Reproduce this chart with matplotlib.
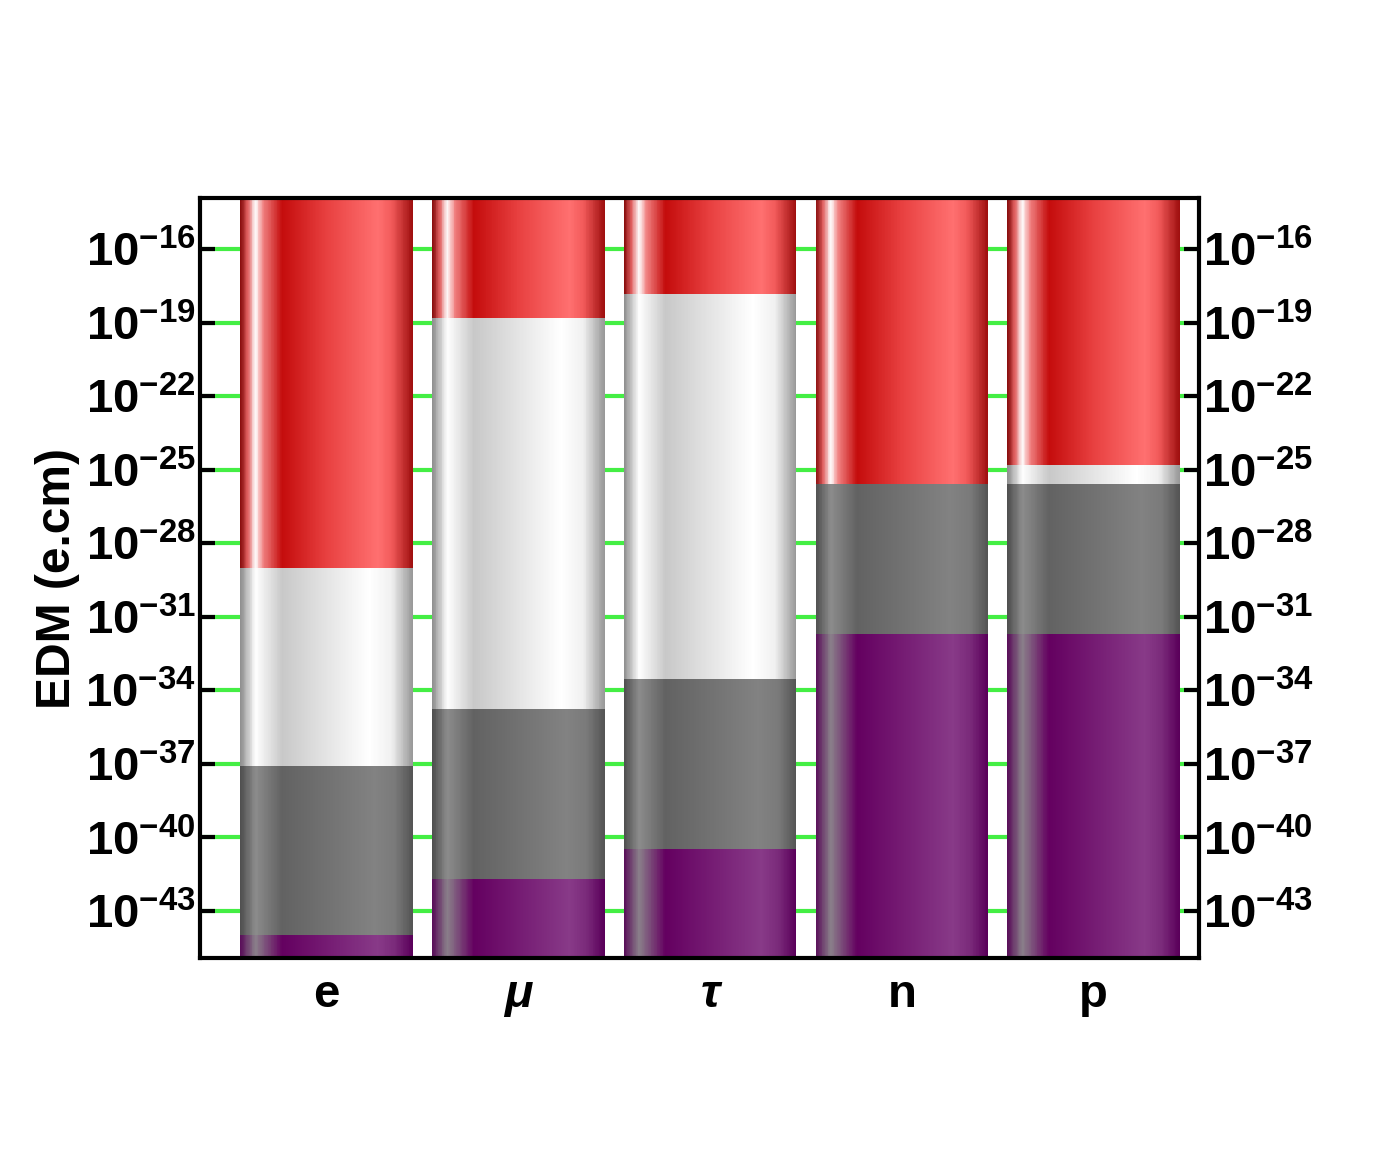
import numpy as np
import matplotlib
matplotlib.use("Agg")
import matplotlib.pyplot as plt
from matplotlib.colors import LinearSegmentedColormap
from matplotlib.ticker import FixedLocator, FuncFormatter, NullLocator

plt.rcParams['font.family'] = ['Liberation Sans', 'DejaVu Sans']
plt.rcParams['font.weight'] = 'bold'
plt.rcParams['mathtext.fontset'] = 'custom'
plt.rcParams['mathtext.rm'] = 'Liberation Sans:bold'
plt.rcParams['mathtext.bf'] = 'Liberation Sans:bold'
plt.rcParams['mathtext.it'] = 'Liberation Sans:bold:italic'

# ---- data ----
particles = ['e', 'μ', 'τ', 'n', 'p']
italic_labels = [False, True, True, False, False]
y_min, y_max = 1.2e-45, 1.2e-14
purple_top = [1.0e-44, 2.0e-42, 3.5e-41, 2.0e-32, 2.0e-32]
gray_top = [8.0e-38, 1.7e-35, 2.8e-34, 2.7e-26, 2.7e-26]
white_top = [1.0e-29, 1.5e-19, 1.5e-18, 2.7e-26, 1.6e-25]
red_top = [y_max] * 5
tick_exponents = list(range(-43, -15, 3))

# ---- gradient colormaps ----
red_cmap = LinearSegmentedColormap.from_list('red', [
    (0.0, '#8b0f0f'), (0.04, '#e06060'), (0.085, '#ffffff'), (0.13, '#f08080'),
    (0.24, '#c40c0c'), (0.5, '#e84040'), (0.8, '#ff7070'), (0.88, '#f25a5a'),
    (1.0, '#a01010')])
white_cmap = LinearSegmentedColormap.from_list('white', [
    (0.0, '#909090'), (0.085, '#ffffff'), (0.24, '#c8c8c8'), (0.75, '#ffffff'),
    (0.88, '#f0f0f0'), (1.0, '#999999')])
gray_cmap = LinearSegmentedColormap.from_list('gray', [
    (0.0, '#505050'), (0.085, '#8c8c8c'), (0.24, '#626262'), (0.78, '#828282'),
    (0.9, '#7a7a7a'), (1.0, '#555555')])
purple_cmap = LinearSegmentedColormap.from_list('purple', [
    (0.0, '#5a105a'), (0.085, '#8a808a'), (0.24, '#640060'), (0.8, '#883a88'),
    (0.9, '#7a2a7a'), (1.0, '#5a005a')])

fig = plt.figure(figsize=(14, 11.6), dpi=100)
ax = fig.add_axes([0.1429, 0.1741, 0.7135, 0.6552])
ax.set_yscale('log')
ax.set_ylim(y_min, y_max)
ax.set_xlim(-0.66, 4.55)

width = 0.9
nx = 200
frac = np.linspace(0, 1, nx).reshape(1, nx)
for i in range(len(particles)):
    xe = np.linspace(i - width / 2, i + width / 2, nx + 1)
    bounds = [y_min, purple_top[i], gray_top[i], white_top[i], red_top[i]]
    cmaps = [purple_cmap, gray_cmap, white_cmap, red_cmap]
    for k in range(4):
        lo, hi = bounds[k], bounds[k + 1]
        if hi <= lo:
            continue
        ax.pcolormesh(xe, [lo, hi], frac, cmap=cmaps[k], vmin=0, vmax=1,
                      shading='flat', zorder=2, antialiased=False,
                      edgecolors='none')

# green grid lines
ticks = [10.0 ** e for e in tick_exponents]
for t in ticks:
    ax.axhline(t, color='#44ee44', lw=3, zorder=1)

ax.yaxis.set_major_locator(FixedLocator(ticks))
ax.yaxis.set_minor_locator(NullLocator())
ax.yaxis.set_major_formatter(FuncFormatter(lambda v, p: r'$\mathbf{10^{%d}}$' % int(round(np.log10(v)))))
ax.tick_params(axis='y', which='major', direction='in', length=11, width=3,
               labelsize=34, left=True, right=True, labelleft=True, labelright=True, pad=3)
ax.tick_params(axis='y', which='minor', left=False, right=False)
ax.set_xticks(range(len(particles)))
ax.set_xticklabels(particles)
for lab, it in zip(ax.get_xticklabels(), italic_labels):
    lab.set_fontweight('bold')
    if it:
        lab.set_fontstyle('italic')
ax.tick_params(axis='x', direction='in', length=10, width=3, labelsize=34, pad=11,
               top=False, bottom=True)
for s in ax.spines.values():
    s.set_linewidth(3)
    s.set_zorder(5)

ax.set_ylabel('EDM (e.cm)', fontsize=34.5, fontweight='bold', labelpad=4)

fig.savefig('out.png', dpi=100)
